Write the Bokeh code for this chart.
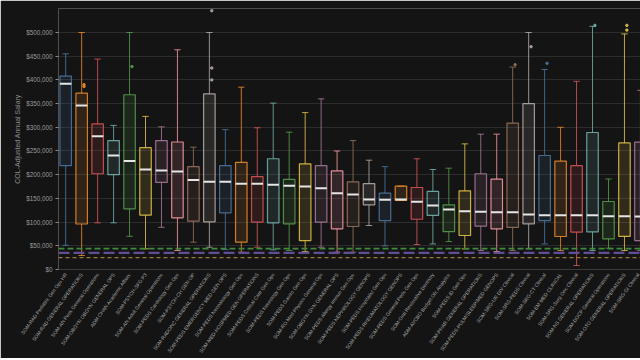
import math
from bokeh.plotting import figure
from bokeh.models import (ColumnDataSource, NumeralTickFormatter,
                          FixedTicker, Span, Range1d)
from bokeh.embed import file_html
from bokeh.resources import INLINE

categories = [
    "SOM-RAD Pediatric Gen Ops HR",
    "SOM-RAD GENERAL OPERATIONS",
    "SOM-AN Peds General Operations",
    "SOM-OBGYN OBGYN GENERAL OPS",
    "ADM CHAN Academic Affairs",
    "SOM-PSYCH-SFG P3",
    "SOM-AN Adult General Operations",
    "SOM-PEDS Cardiology Gen Ops",
    "SOM-PSYCH-CH GEN OP",
    "SOM-RADONC GENERAL OPERATIONS",
    "SOM-PEDS EMERGENCY MED GEN OPS",
    "SOM-PEDS Neonatology Gen Ops",
    "SOM-MED-HOSPMED GEN OPERATIONS",
    "SOM-PEDS Critical Care Gen Ops",
    "SOM-PEDS Neurology Gen Ops",
    "SOM-PEDS Gastro Gen Ops",
    "SOM-RO Med Physics General Ops",
    "SOM-OBGYN GYN GENERAL OPS",
    "SOM-PEDS Allergy Immun Gen Ops",
    "SOM-PEDS NEPHROLOGY GENOPS",
    "SOM-PEDS Hospitalist Gen Ops",
    "SOM-PEDS RHEUMATOLOGY GENOPS",
    "SOM-PEDS General Peds Gen Ops",
    "SOM-Oral Restorative Dentistry",
    "ADM-AVCBO Budget Ofc Analytics",
    "SOM-PEDS ID Gen Ops",
    "SOM-PHAR GENERAL OPERATIONS",
    "SOM-PEDS PULM/SLEEP/MED GENOPS",
    "SOM-SRG-UR DIV Clinical",
    "SOM-SRG-PEDS Clinical",
    "SOM-SRG-CT Clinical",
    "SOM-EM MED CLINICAL",
    "SOM-SRG-Surg Onc Clinical",
    "SOM-NS GENERAL OPERATIONS",
    "SOM-DOCP General Operations",
    "SOM-OTO GENERAL OPERATIONS",
    "SOM-SRG-GI Clinical",
    "SOM-SRG-Transplant Clinical",
]

whisker_low = [51000, 29500, 98500, 98500, 70000, 43600, 89000, 40000, 57600, 47000,
               42000, 36500, 47000, 41500, 40000, 38000, 47000, 36500, 36500, 92800,
               50000, 145600, 52700, 54000, 59000, 43600, 40000, 38000, 40000, 43600,
               54000, 40000, 8400, 40000, 45000, 40000, 40000, 40000]
q1 = [219000, 96000, 202000, 200000, 128000, 114600, 183600, 109000, 102000, 100600,
      119600, 57600, 99800, 98500, 96400, 61000, 99800, 85800, 90700, 136500,
      103000, 145600, 106000, 114000, 80000, 71700, 91400, 85800, 89000, 96400,
      103000, 69600, 78700, 79500, 64700, 70000, 61000, 70000]
median = [392000, 346000, 281000, 240500, 229000, 211000, 209000, 207000, 189000, 185000,
          185000, 181000, 181000, 178700, 176600, 175000, 171500, 161000, 158000, 147700,
          147000, 147700, 142800, 135000, 126600, 123000, 122000, 121000, 121000, 116000,
          114600, 114600, 114600, 114600, 112500, 112500, 111800, 111000]
q3 = [408000, 372000, 307000, 272000, 368600, 257000, 272000, 269000, 217000, 370700,
      219000, 226000, 196000, 233600, 190000, 223000, 219000, 208000, 185000, 181000,
      161000, 175800, 173000, 164600, 136500, 166000, 202000, 190500, 308700, 350000,
      240500, 228500, 219000, 289000, 143500, 267000, 268600, 250000]
whisker_high = [455000, 500000, 444000, 304000, 500000, 323000, 301000, 463500, 258000, 500000,
                295000, 384700, 299000, 351000, 289700, 331000, 360000, 250000, 272000, 230600,
                217000, 175800, 233600, 211000, 213700, 265000, 285500, 285500, 427000, 500000,
                422000, 300000, 397000, 513000, 191000, 497000, 378000, 400000]

outlier_idx = [9, 9, 9, 4, 1, 1, 30, 33, 35, 35, 28, 29]
outlier_val = [546000, 425000, 400000, 428000, 390000, 386000, 435000, 515000, 515000, 505000, 432000, 470000]

reference_lines = [44000, 35000, 25000]
reference_colors = ["#3f8a3c", "#5f4e93", "#9a7a37"]
reference_dash = ["6 3", "11 4", "4 3"]
reference_width = [1.6, 2.2, 1.3]

palette = ["#4e79a7", "#f28e2b", "#e15759", "#76b7b2", "#59a14f",
           "#edc948", "#b07aa1", "#ff9da7", "#9c755f", "#bab0ac"]

n = len(categories)
xs = list(range(n))
colors = [palette[i % len(palette)] for i in xs]
half_box = 0.36
half_cap = 0.2

src = ColumnDataSource(dict(
    x=xs, q1=q1, q3=q3, med=median, lo=whisker_low, hi=whisker_high, color=colors,
    x0=[x - half_box for x in xs], x1=[x + half_box for x in xs],
    c0=[x - half_cap for x in xs], c1=[x + half_cap for x in xs],
))

BG = "#141414"
p = figure(width=640, height=358, output_backend="svg", toolbar_location=None,
           x_range=Range1d(-0.45, 36.005), y_range=Range1d(0, 550600),
           background_fill_color=BG, border_fill_color=BG, outline_line_color=None,
           min_border_left=58, min_border_right=0, min_border_top=8, min_border_bottom=79)

# grid
p.xgrid.grid_line_color = None
p.ygrid.grid_line_color = "#2c2c2c"
p.ygrid.grid_line_width = 1

# reference lines
for val, col, dash, w in zip(reference_lines, reference_colors, reference_dash, reference_width):
    p.add_layout(Span(location=val, dimension="width", line_color=col,
                      line_dash=dash, line_width=w))

# whiskers
p.segment(x0="x", y0="q3", x1="x", y1="hi", source=src, line_color="color", line_width=1, line_alpha=0.8)
p.segment(x0="x", y0="q1", x1="x", y1="lo", source=src, line_color="color", line_width=1, line_alpha=0.8)
p.segment(x0="c0", y0="hi", x1="c1", y1="hi", source=src, line_color="color", line_width=1, line_alpha=0.8)
p.segment(x0="c0", y0="lo", x1="c1", y1="lo", source=src, line_color="color", line_width=1, line_alpha=0.8)

# boxes
p.vbar(x="x", top="q3", bottom="q1", width=2 * half_box, source=src,
       fill_color="color", fill_alpha=0.13, line_color="color", line_width=1.2, line_alpha=0.85)

# medians
p.segment(x0="x0", y0="med", x1="x1", y1="med", source=src, line_color="#e6e6e6", line_width=2)

# outliers
osrc = ColumnDataSource(dict(x=[i + 0.15 for i in outlier_idx], y=outlier_val,
                             color=[colors[i] for i in outlier_idx]))
p.scatter(x="x", y="y", source=osrc, size=2.5, color="color", alpha=0.8)

# y axis
p.yaxis.ticker = FixedTicker(ticks=list(range(0, 500001, 50000)))
p.yaxis.formatter = NumeralTickFormatter(format="$0,0")
p.yaxis.axis_line_color = None
p.yaxis.major_tick_line_color = "#8a8a8a"
p.yaxis.major_tick_out = 3
p.yaxis.major_tick_in = 0
p.yaxis.minor_tick_line_color = None
p.yaxis.major_label_text_font = "Liberation Sans"
p.yaxis.major_label_text_font_size = "6.3px"
p.yaxis.major_label_text_color = "#9a9a9a"
p.yaxis.major_label_standoff = 3
p.yaxis.axis_label = "COL-Adjusted Annual Salary"
p.yaxis.axis_label_text_font = "Liberation Sans"
p.yaxis.axis_label_text_font_size = "7px"
p.yaxis.axis_label_text_font_style = "normal"
p.yaxis.axis_label_text_color = "#8c8c8c"
p.yaxis.axis_label_standoff = 2

# x axis with category labels
p.xaxis.ticker = FixedTicker(ticks=xs)
p.xaxis.major_label_overrides = {i: c for i, c in zip(xs, categories)}
p.xaxis.major_label_orientation = math.radians(54)
p.xaxis.axis_line_color = "#3a3a3a"
p.xaxis.major_tick_line_color = None
p.xaxis.major_tick_out = 0
p.xaxis.major_tick_in = 0
p.xaxis.minor_tick_line_color = None
p.xaxis.major_label_standoff = 4
p.xaxis.major_label_text_font = "Liberation Sans"
p.xaxis.major_label_text_font_size = "5px"
p.xaxis.major_label_text_color = "#a8a8a8"

open("out.html", "w").write(file_html(p, INLINE))
